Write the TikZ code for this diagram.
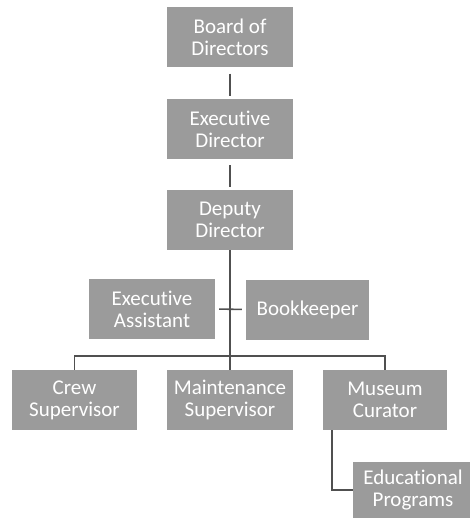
\documentclass[tikz,border=0pt]{standalone}
\usepackage{fontspec}
\setmainfont[Ligatures=NoCommon]{Carlito}
\usetikzlibrary{calc}
\definecolor{boxgray}{HTML}{9B9B9B}
\definecolor{linegray}{HTML}{505050}
\tikzstyle{box}=[rectangle,fill=boxgray,minimum width=126pt,minimum height=60pt,inner sep=0pt,align=center,text=white,font=\fontsize{21}{22}\selectfont]
\tikzstyle{link}=[draw=linegray,line width=1.6pt]

\begin{document}
\begin{tikzpicture}[x=1pt,y=-1pt]
	\useasboundingbox (0,0) rectangle (469,518);

	\node[box](board) at (230,37.5){Board of\\Directors};
	\node[box](exec) at (230,129){Executive\\Director};
	\node[box](deputy) at (230,220){Deputy\\Director};
	\node[box](assist) at (152,309){Executive\\Assistant};
	\node[box, minimum width=123pt](books) at (307.5,309.5){Bookkeeper};
	\node[box, minimum width=125pt](crew) at (74.5,400){Crew\\Supervisor};
	\node[box](maint) at (230,400){Maintenance\\Supervisor};
	\node[box, minimum width=124pt](curator) at (385,400){Museum\\Curator};
	\node[box, minimum width=120pt, minimum height=56pt](educ) at (413,490){Educational\\Programs};

	\coordinate (bar) at (230,356);

	\draw[link, shorten >=3pt, shorten <=6pt] (board) -- (exec);
	\draw[link, shorten >=3pt, shorten <=6pt] (exec) -- (deputy);
	\draw[link] (deputy) -- (maint);
	\draw[link, shorten >=4pt, shorten <=4pt] (assist.east) -- (books.west);
	\draw[link] (crew.north) |- (bar) -| (curator.north);
	%\draw[link] (curator.south) |- (educ.west);
	\draw[link] ([xshift=-53pt]curator.south) |- (educ.west);

\end{tikzpicture}
\end{document}
